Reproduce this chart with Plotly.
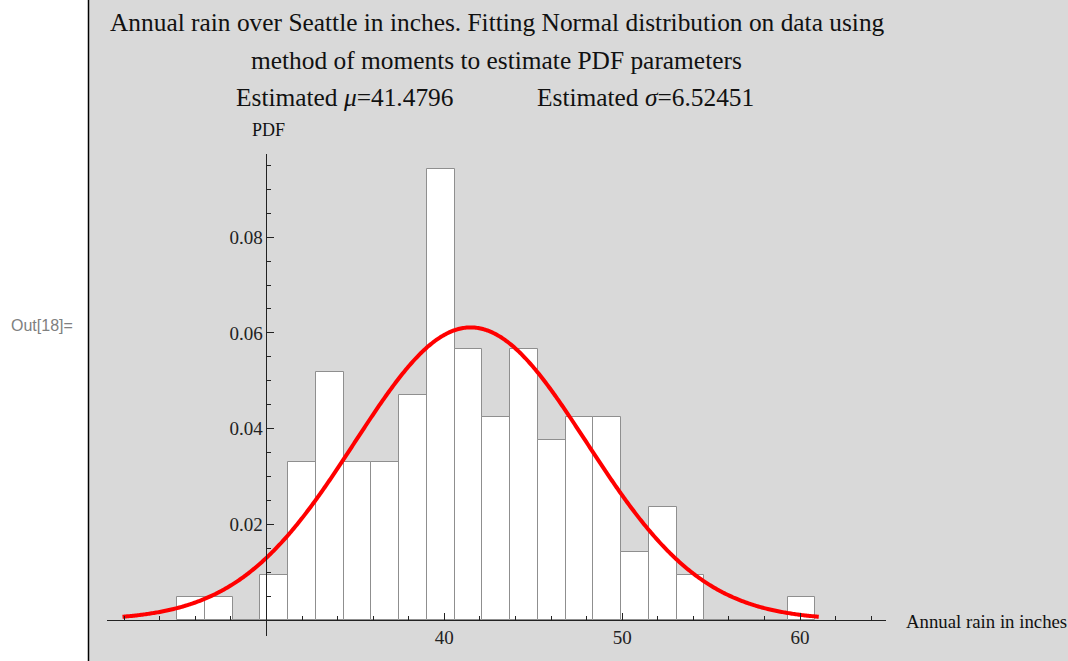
import numpy as np
import plotly.graph_objects as go

# ---- data ----
bin_start = 24.97
bin_width = 1.5604
bin_counts = [1, 1, 0, 2, 7, 11, 7, 7, 10, 20, 12, 9, 12, 8, 9, 9, 3, 5, 2, 0, 0, 0, 1]
mu = 41.4796
sigma = 6.52451
x_major_ticks = [40, 50, 60]
y_major_ticks = [0.02, 0.04, 0.06, 0.08]

n_total = sum(bin_counts)
centers = [bin_start + (i + 0.5) * bin_width for i in range(len(bin_counts))]
density = [c / (n_total * bin_width) for c in bin_counts]

xs = np.linspace(mu - 3 * sigma, mu + 3 * sigma, 600)
ys = np.exp(-0.5 * ((xs - mu) / sigma) ** 2) / (sigma * np.sqrt(2 * np.pi))

W, H = 1068, 661
ML, MR, MT, MB = 107, 182, 154, 25
PW, PH = W - ML - MR, H - MT - MB
XMIN, XMAX = 21.034, 64.834
YMIN, YMAX = -0.00334, 0.09739


def xp(px):
    return (px - ML) / PW


def yp(py):
    return (H - MB - py) / PH


BG = "#d9d9d9"
SERIF = "Liberation Serif, Times New Roman, serif"

fig = go.Figure()
fig.add_trace(go.Bar(
    x=centers, y=density, width=bin_width,
    marker=dict(color="white", line=dict(color="#8f8f8f", width=1)),
    showlegend=False, hoverinfo="skip",
))
fig.add_trace(go.Scatter(
    x=xs, y=ys, mode="lines",
    line=dict(color="#ff0000", width=4, simplify=False),
    showlegend=False, hoverinfo="skip",
))

x_minor = [v for v in range(22, 65, 2) if v not in (30, 40, 50, 60)]
y_minor = [round(0.005 * k, 4) for k in range(1, 20) if k % 4 != 0]

fig.update_layout(
    width=W, height=H,
    margin=dict(l=ML, r=MR, t=MT, b=MB, pad=0),
    paper_bgcolor=BG, plot_bgcolor=BG,
    bargap=0,
    xaxis=dict(
        range=[XMIN, XMAX], anchor="free",
        position=(0 - YMIN) / (YMAX - YMIN),
        showgrid=False, zeroline=False,
        showline=True, linecolor="#222", linewidth=1,
        tickmode="array", tickvals=x_major_ticks,
        ticks="inside", ticklen=7, tickcolor="#222", tickwidth=1,
        tickfont=dict(family=SERIF, size=19, color="#222"),
        minor=dict(tickmode="array", tickvals=x_minor, ticks="inside",
                   ticklen=4, tickcolor="#222", tickwidth=1, showgrid=False),
        layer="above traces",
    ),
    yaxis=dict(
        range=[YMIN, YMAX], anchor="free",
        position=(30 - XMIN) / (XMAX - XMIN),
        showgrid=False, zeroline=False,
        showline=True, linecolor="#222", linewidth=1,
        tickmode="array", tickvals=y_major_ticks,
        ticktext=["0.02", "0.04", "0.06", "0.08"],
        ticks="inside", ticklen=7, tickcolor="#222", tickwidth=1,
        tickfont=dict(family=SERIF, size=19, color="#222"),
        minor=dict(tickmode="array", tickvals=y_minor, ticks="inside",
                   ticklen=4, tickcolor="#222", tickwidth=1, showgrid=False),
        layer="above traces",
    ),
    shapes=[
        dict(type="rect", xref="paper", yref="paper",
             x0=xp(-5), x1=xp(88), y0=yp(H + 10), y1=yp(-10),
             fillcolor="white", line=dict(width=0), layer="below"),
        dict(type="line", xref="paper", yref="paper",
             x0=xp(88.5), x1=xp(88.5), y0=yp(H + 10), y1=yp(-10),
             line=dict(color="black", width=1.5), layer="below"),
    ],
)

ann = [
    dict(text="Annual rain over Seattle in inches. Fitting Normal distribution on data using",
         x=xp(497.5), y=yp(22), xanchor="center", size=25.4),
    dict(text="method of moments to estimate PDF parameters",
         x=xp(496.5), y=yp(60), xanchor="center", size=25.4),
    dict(text=f"Estimated <i>\u03bc</i>={mu}", x=xp(234), y=yp(97), xanchor="left", size=25.4),
    dict(text=f"Estimated <i>\u03c3</i>={sigma}", x=xp(535), y=yp(97), xanchor="left", size=25.4),
    dict(text="PDF", x=xp(250), y=yp(130), xanchor="left", size=18),
    dict(text="Annual rain in inches", x=xp(904), y=yp(621), xanchor="left", size=18.8),
]
for a in ann:
    fig.add_annotation(
        text=a["text"], x=a["x"], y=a["y"], xref="paper", yref="paper",
        xanchor=a["xanchor"], yanchor="middle", showarrow=False,
        font=dict(family=SERIF, size=a["size"], color="#111"),
    )
fig.add_annotation(
    text="Out[18]=", x=xp(9), y=yp(325), xref="paper", yref="paper",
    xanchor="left", yanchor="middle", showarrow=False,
    font=dict(family="Liberation Sans, Arial, sans-serif", size=16, color="#808080"),
)

fig.write_html(
    "out.html",
    config={"displayModeBar": False},
    post_script="document.body.style.margin='0';document.body.style.overflow='hidden';",
)
